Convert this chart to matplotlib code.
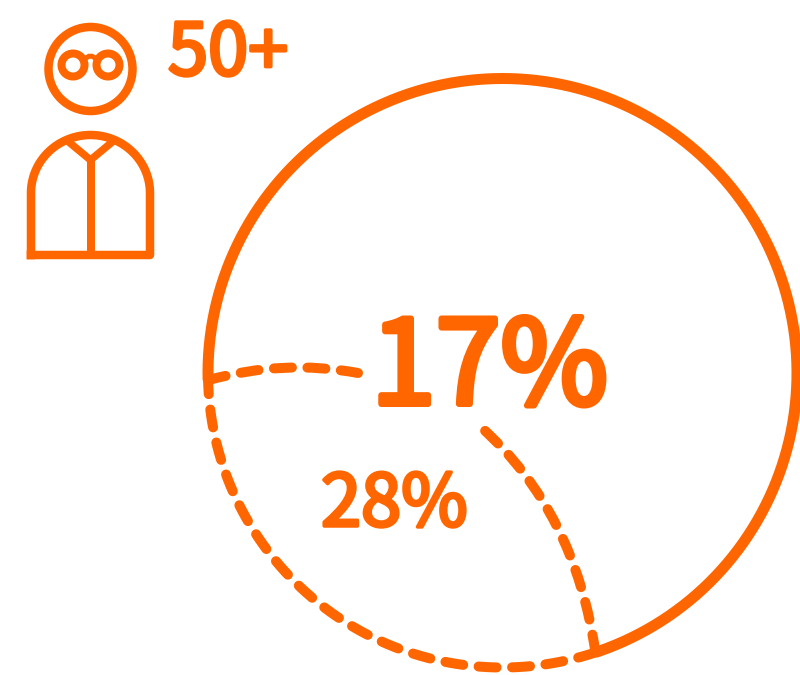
import numpy as np
import matplotlib
matplotlib.use('Agg')
import matplotlib.pyplot as plt
import matplotlib.patheffects as pe
from matplotlib.patches import Circle, PathPatch
from matplotlib.path import Path

# Values
age_label = '50+'
main_label = '17%'
slice_label = '28%'
slice_start_deg = 71.6    # clockwise from east, in screen coords
slice_end_deg = 178.6

orange = '#ff6600'
cx, cy, r = 502.5, 373, 294.5
font = ['Noto Sans CJK SC', 'DejaVu Sans']
px = 0.72  # one pixel in points at dpi 100
dash_lw = 10 * px
dash_style = (1.8, 1.55)

fig = plt.figure(figsize=(8, 6.75), dpi=100)
ax = fig.add_axes([0, 0, 1, 1])
ax.set_xlim(0, 800)
ax.set_ylim(675, 0)
ax.axis('off')


def arc_xy(a, b):
    t = np.radians(np.linspace(a, b, 300))
    return cx + r * np.cos(t), cy + r * np.sin(t)


def dashed_curve(p0, ctrl, p1):
    path = Path([p0, ctrl, p1], [Path.MOVETO, Path.CURVE3, Path.CURVE3])
    ax.add_patch(PathPatch(path, fill=False, ec=orange, lw=dash_lw,
                           ls=(0, dash_style), capstyle='round'))


def label(x, y, s, size, stroke):
    txt = ax.text(x, y, s, color=orange, family=font, fontsize=size, va='baseline')
    txt.set_path_effects([pe.withStroke(linewidth=stroke * px, foreground=orange)])


# Solid part of the ring
x, y = arc_xy(slice_end_deg, slice_start_deg + 360)
ax.plot(x, y, color=orange, lw=11 * px, solid_capstyle='butt')

# Dashed slice: outer edge and two curved sides
x, y = arc_xy(slice_start_deg, slice_end_deg)
ax.plot(x, y, color=orange, lw=dash_lw, dashes=dash_style, dash_capstyle='round')
dashed_curve((x[-1], y[-1]), (284, 359), (358, 373))
dashed_curve((x[0], y[0]), (575, 512), (482, 428))

# Person icon
ic = dict(fill=False, ec=orange)
ax.add_patch(Circle((90.5, 69), 42, lw=8.5 * px, **ic))
ax.add_patch(Circle((73, 65), 11.5, lw=8 * px, **ic))
ax.add_patch(Circle((108, 65), 11.5, lw=8 * px, **ic))
bridge = Path([(84, 60), (90.5, 52), (97, 60)], [Path.MOVETO, Path.CURVE3, Path.CURVE3])
ax.add_patch(PathPatch(bridge, lw=5 * px, **ic))

t = np.radians(np.linspace(180, 360, 80))
body_x = np.r_[31, 90.5 + 59.5 * np.cos(t), 150, 31]
body_y = np.r_[255, 193 + 58 * np.sin(t), 255, 255]
ax.plot(body_x, body_y, color=orange, lw=8.5 * px, solid_joinstyle='round')
ax.plot([90.5, 90.5], [160, 255], color=orange, lw=8 * px)
ax.plot([70, 90.5, 111], [143, 160, 143], color=orange, lw=7.5 * px)

# Text: regular weight thickened with a stroke, the bold cut runs too wide
label(168, 75, age_label, 52, 3.5)
label(371, 404, main_label, 84, 6)
label(321, 526, slice_label, 52, 3.5)

fig.savefig('out.png', dpi=100)
